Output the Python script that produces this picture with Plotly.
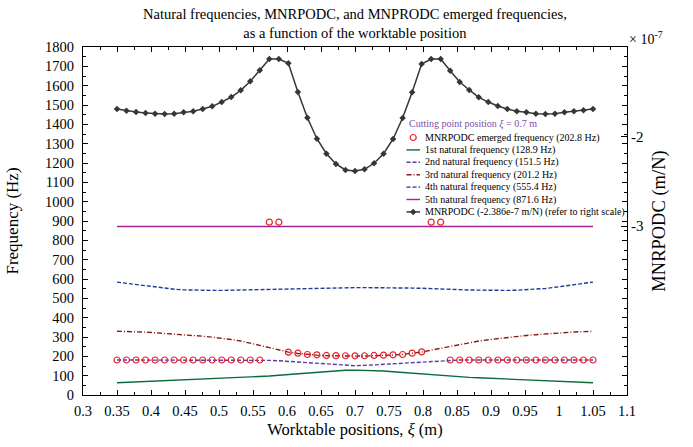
import plotly.graph_objects as go

# Worktable positions (m)
positions = [
    0.350, 0.364, 0.378, 0.392, 0.406, 0.420, 0.434, 0.448, 0.462, 0.476,
    0.490, 0.504, 0.518, 0.532, 0.546, 0.560, 0.574, 0.588, 0.602, 0.616,
    0.630, 0.644, 0.658, 0.672, 0.686, 0.700, 0.714, 0.728, 0.742, 0.756,
    0.770, 0.784, 0.798, 0.812, 0.826, 0.840, 0.854, 0.868, 0.882, 0.896,
    0.910, 0.924, 0.938, 0.952, 0.966, 0.980, 0.994, 1.008, 1.022, 1.036,
    1.050,
]

# Natural frequencies (Hz)
freq_1st = [
    63, 65, 67, 69, 71, 73, 75, 77, 79, 81,
    83, 85, 87, 89.5, 92, 95, 98, 102, 106, 110,
    115, 119, 123, 126, 128, 128.9, 128.5, 127, 124, 120,
    116, 112, 108, 104, 100, 97, 94, 91, 89, 87,
    85, 82, 80, 77, 75, 73, 71, 69, 67, 65,
    63,
]
freq_2nd = [
    181, 181, 181, 181, 181, 181, 181, 181, 181, 181,
    181, 181, 181, 181, 181, 180.5, 179, 177, 174, 171,
    168, 165, 161, 157, 154, 151.5, 153, 156, 159, 163,
    166, 169, 172, 175, 178, 180, 181, 181, 181, 181,
    181, 181, 181, 181, 181, 181, 181, 181, 181, 181,
    181,
]
freq_3rd = [
    330, 329, 327, 325, 322, 319, 316, 312, 308, 304,
    299, 294, 287, 279, 269, 257, 245, 233, 222, 215,
    209, 206, 203.5, 202, 201.5, 201.2, 201.5, 202.5, 204.5, 207,
    210, 215, 222, 232, 242, 252, 262, 271, 279, 286,
    292, 298, 303, 308, 312, 316, 320, 323, 326, 328,
    329,
]
freq_4th = [
    584, 578, 571, 564, 557, 551, 547, 544, 542, 541,
    541, 541, 542, 543, 545, 547, 549, 551, 552, 553,
    554, 555, 555.5, 555.5, 555.4, 555.4, 555.4, 555.5, 555.5, 555,
    554, 553, 552, 551, 549, 547, 545, 543, 542, 541,
    541, 541, 542, 544, 547, 551, 557, 564, 571, 578,
    584,
]
freq_5th = [
    871.6, 871.6, 871.6, 871.6, 871.6, 871.6, 871.6, 871.6, 871.6, 871.6,
    871.6, 871.6, 871.6, 871.6, 871.6, 871.6, 871.6, 871.6, 871.6, 871.6,
    871.6, 871.6, 871.6, 871.6, 871.6, 871.6, 871.6, 871.6, 871.6, 871.6,
    871.6, 871.6, 871.6, 871.6, 871.6, 871.6, 871.6, 871.6, 871.6, 871.6,
    871.6, 871.6, 871.6, 871.6, 871.6, 871.6, 871.6, 871.6, 871.6, 871.6,
    871.6,
]

# Frequency at which the MNRPODC emerges (Hz)
emerged_freq = [
    181, 181, 181, 181, 181, 181, 181, 181, 181, 181,
    181, 181, 181, 181, 181, 181, 894, 894, 222, 216.5,
    209.5, 208, 204.5, 203.5, 203, 202.8, 203, 204.5, 206, 208,
    209.5, 216.5, 223, 894, 894, 181, 181, 181, 181, 181,
    181, 181, 181, 181, 181, 181, 181, 181, 181, 181,
    181,
]

# MNRPODC (x 1e-7 m/N)
mnrpodc = [
    -1.693, -1.712, -1.726, -1.737, -1.745, -1.749, -1.745, -1.730, -1.718, -1.693,
    -1.663, -1.615, -1.559, -1.484, -1.383, -1.260, -1.134, -1.134, -1.182, -1.503,
    -1.790, -2.025, -2.192, -2.307, -2.374, -2.386, -2.366, -2.299, -2.192, -2.028,
    -1.793, -1.506, -1.190, -1.134, -1.134, -1.265, -1.391, -1.480, -1.562, -1.615,
    -1.659, -1.693, -1.718, -1.730, -1.745, -1.749, -1.745, -1.730, -1.718, -1.707,
    -1.693,
]

# Axis ticks
x_tick_vals = [0.3, 0.35, 0.4, 0.45, 0.5, 0.55, 0.6, 0.65, 0.7, 0.75, 0.8,
               0.85, 0.9, 0.95, 1.0, 1.05, 1.1]
x_tick_text = ["0.3", "0.35", "0.4", "0.45", "0.5", "0.55", "0.6", "0.65", "0.7",
               "0.75", "0.8", "0.85", "0.9", "0.95", "1", "1.05", "1.1"]
x_minor_vals = [0.325, 0.375, 0.425, 0.475, 0.525, 0.575, 0.625, 0.675, 0.725,
                0.775, 0.825, 0.875, 0.925, 0.975, 1.025, 1.075]
y_tick_vals = [0, 100, 200, 300, 400, 500, 600, 700, 800, 900, 1000, 1100, 1200,
               1300, 1400, 1500, 1600, 1700, 1800]
y_minor_vals = [50, 150, 250, 350, 450, 550, 650, 750, 850, 950, 1050, 1150,
                1250, 1350, 1450, 1550, 1650, 1750]
y2_tick_vals = [-3, -2]
y2_tick_text = ["-3", "-2"]

# Legend entries
legend_title = "Cutting point position <i>ξ</i> = 0.7 m"
legend_labels = [
    "MNRPODC emerged frequency (202.8 Hz)",
    "1st natural frequency (128.9 Hz)",
    "2nd natural frequency (151.5 Hz)",
    "3rd natural frequency (201.2 Hz)",
    "4th natural frequency (555.4 Hz)",
    "5th natural frequency (871.6 Hz)",
    "MNRPODC (-2.386e-7 m/N) (refer to right scale)",
]

FONT = "Liberation Serif"
C_EMERGED = "#E8202A"
C_1ST = "#0B6B3A"
C_2ND = "#5A3EA6"
C_3RD = "#8B1A1A"
C_4TH = "#1F3A93"
C_5TH = "#A3238F"
C_MNR = "#363636"
C_TITLE_LEG = "#7851A9"

DASH = "4px,2px"
DASHDOT = "5px,2px,1px,2px"

# Plot-area geometry (pixels) used to place the in-axes legend
W, H = 693, 447
L, R, T, B = 83, 66, 47, 52
PW, PH = W - L - R, H - T - B


def px_x(px):
    return (px - L) / PW


def px_y(py):
    return (H - B - py) / PH


fig = go.Figure()

line_specs = [
    (freq_1st, C_1ST, "solid"),
    (freq_2nd, C_2ND, DASH),
    (freq_3rd, C_3RD, DASHDOT),
    (freq_4th, C_4TH, DASH),
    (freq_5th, C_5TH, "solid"),
]
for vals, col, dash in line_specs:
    fig.add_trace(go.Scatter(
        x=positions, y=vals, mode="lines",
        line=dict(color=col, width=1.4, dash=dash),
        showlegend=False, hoverinfo="skip",
    ))

fig.add_trace(go.Scatter(
    x=positions, y=emerged_freq, mode="markers",
    marker=dict(symbol="circle-open", size=6, color=C_EMERGED,
                line=dict(width=1.2, color=C_EMERGED)),
    showlegend=False, hoverinfo="skip",
))

fig.add_trace(go.Scatter(
    x=positions, y=mnrpodc, mode="lines+markers", yaxis="y2",
    line=dict(color=C_MNR, width=1.5),
    marker=dict(symbol="diamond", size=5, color=C_MNR),
    showlegend=False, hoverinfo="skip",
))

# Legend symbols drawn on a hidden [0,1] overlay matching the plot area
row_y = [137.5, 149.9, 162.3, 174.7, 187.1, 199.5, 211.9]
sym_x0, sym_x1, sym_xc, text_x = 406.5, 420.0, 413.2, 423.0

fig.add_trace(go.Scatter(
    x=[px_x(sym_xc)], y=[px_y(row_y[0])], mode="markers",
    xaxis="x2", yaxis="y3",
    marker=dict(symbol="circle-open", size=6, color=C_EMERGED,
                line=dict(width=1.2, color=C_EMERGED)),
    showlegend=False, hoverinfo="skip", cliponaxis=False,
))
for (vals, col, dash), ry in zip(line_specs, row_y[1:6]):
    fig.add_trace(go.Scatter(
        x=[px_x(sym_x0), px_x(sym_x1)], y=[px_y(ry), px_y(ry)], mode="lines",
        xaxis="x2", yaxis="y3",
        line=dict(color=col, width=1.4, dash=dash),
        showlegend=False, hoverinfo="skip",
    ))
fig.add_trace(go.Scatter(
    x=[px_x(sym_x0), px_x(sym_xc), px_x(sym_x1)],
    y=[px_y(row_y[6])] * 3, mode="lines",
    xaxis="x2", yaxis="y3",
    line=dict(color=C_MNR, width=1.5),
    showlegend=False, hoverinfo="skip",
))
fig.add_trace(go.Scatter(
    x=[px_x(sym_xc)], y=[px_y(row_y[6])], mode="markers",
    xaxis="x2", yaxis="y3",
    marker=dict(symbol="diamond", size=5, color=C_MNR),
    showlegend=False, hoverinfo="skip",
))

# Legend title as a text mark anchored at its left end
fig.add_trace(go.Scatter(
    x=[px_x(409)], y=[px_y(124.3)], mode="text",
    xaxis="x2", yaxis="y3",
    text=[legend_title], textposition="middle right",
    textfont=dict(family=FONT, size=10, color=C_TITLE_LEG),
    showlegend=False, hoverinfo="skip", cliponaxis=False,
))

annotations = [
    dict(text="Natural frequencies, MNRPODC, and MNPRODC emerged frequencies,"
              "<br>as a function of the worktable position",
         xref="paper", yref="paper", x=0.5, y=px_y(23.5),
         xanchor="center", yanchor="middle", showarrow=False,
         font=dict(family=FONT, size=14.5, color="black")),
    dict(text="× 10<sup>-7</sup>", xref="paper", yref="paper",
         x=px_x(627), y=px_y(38), xanchor="left", yanchor="middle",
         showarrow=False, font=dict(family=FONT, size=14, color="black")),
]
for label, ry in zip(legend_labels, row_y):
    annotations.append(dict(
        text=label, xref="paper", yref="paper",
        x=px_x(text_x), y=px_y(ry), xanchor="left", yanchor="middle",
        align="left", showarrow=False,
        font=dict(family=FONT, size=10, color="black"),
    ))

axis_font = dict(family=FONT, size=14.5, color="black")

fig.update_layout(
    width=W, height=H,
    margin=dict(l=L, r=R, t=T, b=B, pad=0),
    paper_bgcolor="white", plot_bgcolor="white",
    font=dict(family=FONT, color="black"),
    showlegend=False,
    annotations=annotations,
    xaxis=dict(
        range=[0.3, 1.1], tickmode="array", tickvals=x_tick_vals, ticktext=x_tick_text,
        ticks="inside", ticklen=5, tickwidth=1, tickcolor="black",
        minor=dict(tickmode="array", tickvals=x_minor_vals, ticks="inside",
                   ticklen=3, tickwidth=1, tickcolor="black", showgrid=False),
        showline=True, linecolor="black", linewidth=1, mirror="ticks",
        showgrid=False, zeroline=False, tickfont=axis_font, ticklabelstandoff=3,
        title=dict(text="Worktable positions, <i>ξ</i> (m)",
                   font=dict(family=FONT, size=16.5, color="black"), standoff=5),
    ),
    yaxis=dict(
        range=[0, 1800], tickmode="array", tickvals=y_tick_vals,
        ticks="inside", ticklen=5, tickwidth=1, tickcolor="black",
        minor=dict(tickmode="array", tickvals=y_minor_vals, ticks="inside",
                   ticklen=3, tickwidth=1, tickcolor="black", showgrid=False),
        showline=True, linecolor="black", linewidth=1, mirror="ticks",
        showgrid=False, zeroline=False, tickfont=axis_font, ticklabelstandoff=5,
        title=dict(text="Frequency (Hz)",
                   font=dict(family=FONT, size=17, color="black"), standoff=22),
    ),
    yaxis2=dict(
        overlaying="y", side="right", range=[-4.888, -1.0],
        tickmode="array", tickvals=y2_tick_vals, ticktext=y2_tick_text,
        ticks="inside", ticklen=6, tickwidth=1, tickcolor="black",
        showline=False, showgrid=False, zeroline=False,
        tickfont=dict(family=FONT, size=15, color="black"), ticklabelstandoff=3,
        title=dict(text="MNRPODC (m/N)",
                   font=dict(family=FONT, size=18.5, color="black"), standoff=9),
    ),
    xaxis2=dict(overlaying="x", anchor="y3", range=[0, 1], visible=False, fixedrange=True),
    yaxis3=dict(overlaying="y", anchor="x2", range=[0, 1], visible=False, fixedrange=True),
)

fig.write_html("out.html")
